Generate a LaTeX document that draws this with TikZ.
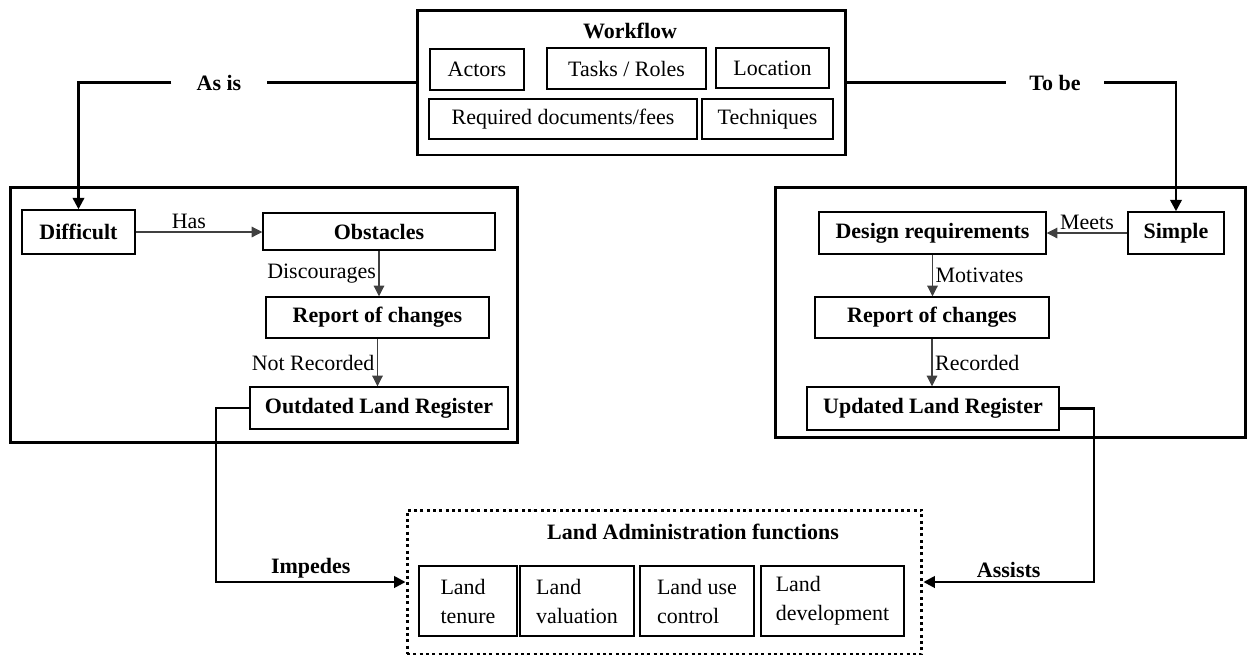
\documentclass[tikz,border=0pt]{standalone}
\usepackage{fontspec}
\setmainfont{Liberation Serif}
\usetikzlibrary{arrows.meta}
\newcommand{\txtsize}{\fontsize{12.5}{15}\selectfont}

\begin{document}
\begin{tikzpicture}[x=0.02cm, y=-0.02cm, font=\txtsize,
  bigbox/.style={draw, line width=1.7pt},
  itembox/.style={draw, line width=0.85pt, inner sep=0pt},
  keybox/.style={itembox, font=\txtsize\bfseries},
  funcbox/.style={itembox, align=left, minimum height=1.4cm, font=\fontsize{12.5}{16.5}\selectfont},
  ladbox/.style={draw, line width=1.7pt, dash pattern=on 1.7pt off 1.9pt},
  link/.style={line width=0.6pt, draw=black!75, -{Triangle[length=6pt,width=6pt]}},
  flow/.style={line width=1.4pt, -{Triangle[length=6.5pt,width=6.5pt]}},
  lbl/.style={inner sep=1.5pt}]
  \useasboundingbox (0,0) rectangle (1249,657);

  % workflow
  \node[bigbox, minimum width=8.58cm, minimum height=2.9cm] (wf) at (631.5,82.5) {};
  \node[font=\txtsize\bfseries] (wftitle) at (630,31) {Workflow};
  \node[itembox, minimum width=1.88cm, minimum height=0.82cm] (actors) at (477,69.5) {Actors};
  \node[itembox, minimum width=3.18cm, minimum height=0.82cm] (tasks) at (626.5,68.5) {Tasks / Roles};
  \node[itembox, minimum width=2.26cm, minimum height=0.8cm] (location) at (772.5,68) {Location};
  \node[itembox, minimum width=5.36cm, minimum height=0.8cm] (docs) at (563,119) {Required documents/fees};
  \node[itembox, minimum width=2.62cm, minimum height=0.8cm] (techniques) at (767.5,119) {Techniques};

  % as is
  \node[bigbox, minimum width=10.16cm, minimum height=5.12cm] (asisbox) at (264,315) {};
  \node[keybox, minimum width=2.26cm, minimum height=0.88cm] (diff) at (78.5,232) {Difficult};
  \node[keybox, minimum width=4.64cm, minimum height=0.74cm] (obst) at (379,231.5) {Obstacles};
  \node[keybox, minimum width=4.46cm, minimum height=0.82cm] (repl) at (377.5,317.5) {Report of changes};
  \node[keybox, minimum width=5.16cm, minimum height=0.84cm] (outd) at (379,408) {Outdated Land Register};

  % to be
  \node[bigbox, minimum width=9.42cm, minimum height=5.02cm] (tobebox) at (1010.5,312.5) {};
  \node[keybox, minimum width=1.92cm, minimum height=0.84cm] (simple) at (1176,233) {Simple};
  \node[keybox, minimum width=4.54cm, minimum height=0.84cm] (design) at (932.5,233) {Design requirements};
  \node[keybox, minimum width=4.68cm, minimum height=0.82cm] (repr) at (932,317.5) {Report of changes\hspace{0.55cm}};
  \node[keybox, minimum width=5.04cm, minimum height=0.86cm] (upd) at (933,408.5) {Updated Land Register};

  % land administration
  \node[ladbox, minimum width=10.3cm, minimum height=2.88cm] (lad) at (664.5,582) {};
  \node[font=\txtsize\bfseries] (ladtitle) at (693,532) {Land Administration functions};
  \node[funcbox, minimum width=1.96cm] (tenure) at (468,601) {Land\\tenure};
  \node[funcbox, minimum width=2.28cm] (valuation) at (577,601) {Land\\valuation};
  \node[funcbox, minimum width=2.28cm] (usectl) at (697,601) {Land use\\control};
  \node[funcbox, minimum width=2.86cm] (develop) at (832.5,601) {Land\\development};

  % thin links
  \draw[link] (diff.east) -- node[lbl, above, pos=0.42] (has) {Has} (diff.east -| obst.west);
  \draw[link] (obst.south) -- node[lbl, left] (disc) {Discourages} (obst.south |- repl.north);
  \draw[link] (repl.south) -- node[lbl, left] (notrec) {Not Recorded} (repl.south |- outd.north);
  \draw[link] (simple.west) -- node[lbl, above] (meets) {Meets} (simple.west -| design.east);
  \draw[link] (design.south) -- node[lbl, right] (motiv) {Motivates} (design.south |- repr.north);
  \draw[link] (repr.south) -- node[lbl, right] (rec) {Recorded} (repr.south |- upd.north);

  % thick flows
  \node[font=\txtsize\bfseries, inner xsep=0.5cm] (asis) at (219,82.5) {As is};
  \node[font=\txtsize\bfseries, inner xsep=0.47cm] (tobe) at (1055,82.5) {To be};
  \draw[line width=1.4pt] (wf.west) -- (asis.east);
  \draw[flow] (asis.west) -| (diff.north);
  \draw[line width=1.4pt] (wf.east) -- (tobe.west);
  \draw[flow] (tobe.east) -| (simple.north);

  \coordinate (impc) at (216,0);
  \coordinate (asc) at (1094,0);
  \draw[flow] (outd.west) -- (outd.west -| impc) -- (impc |- lad.west)
    -- node[lbl, above, font=\txtsize\bfseries] (imp) {Impedes} (lad.west);
  \draw[flow] (upd.east) -- (upd.east -| asc) -- (asc |- lad.east)
    -- node[lbl, above, font=\txtsize\bfseries] (assist) {Assists} (lad.east);
\end{tikzpicture}
\end{document}
